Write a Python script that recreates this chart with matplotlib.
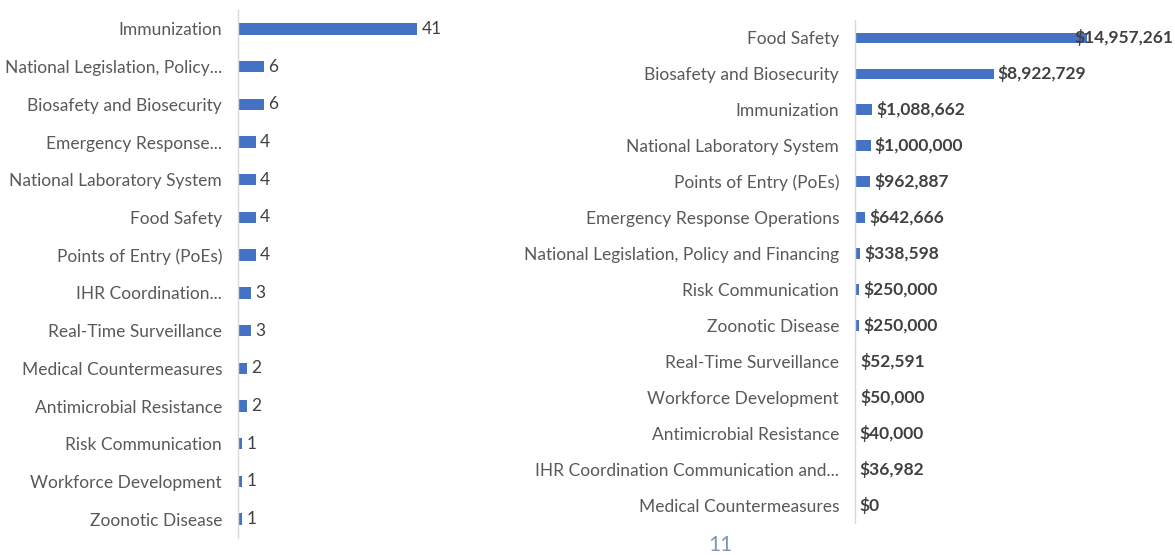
import numpy as np
import matplotlib.pyplot as plt

# left panel: number of activities per technical area
count_labels = ["Immunization", "National Legislation, Policy...", "Biosafety and Biosecurity",
                "Emergency Response...", "National Laboratory System", "Food Safety",
                "Points of Entry (PoEs)", "IHR Coordination...", "Real-Time Surveillance",
                "Medical Countermeasures", "Antimicrobial Resistance", "Risk Communication",
                "Workforce Development", "Zoonotic Disease"]
count_values = [41, 6, 6, 4, 4, 4, 4, 3, 3, 2, 2, 1, 1, 1]

# right panel: funding per technical area
fund_labels = ["Food Safety", "Biosafety and Biosecurity", "Immunization",
               "National Laboratory System", "Points of Entry (PoEs)",
               "Emergency Response Operations", "National Legislation, Policy and Financing",
               "Risk Communication", "Zoonotic Disease", "Real-Time Surveillance",
               "Workforce Development", "Antimicrobial Resistance",
               "IHR Coordination Communication and...", "Medical Countermeasures"]
fund_values = [14957261, 8922729, 1088662, 1000000, 962887, 642666, 338598,
               250000, 250000, 52591, 50000, 40000, 36982, 0]

plt.rcParams['font.family'] = ['Lato', 'DejaVu Sans']

W, H = 1175, 555
bar_col = "#4472C4"
txt_col = "#595959"
val_col = "#404040"
axis_col = "#D9D9D9"

fig = plt.figure(figsize=(W / 100, H / 100), dpi=100)


def px_axes(left, right, top, bottom):
    return fig.add_axes([left / W, 1 - bottom / H, (right - left) / W, (bottom - top) / H])


def style(ax):
    for s in ["top", "right", "bottom"]:
        ax.spines[s].set_visible(False)
    ax.spines["left"].set_color(axis_col)
    ax.spines["left"].set_linewidth(1.0)
    ax.set_xticks([])
    ax.tick_params(axis="y", length=0, pad=11.5, labelsize=12.5, labelcolor=txt_col)


# left chart
ax1 = px_axes(238, 448, 10, 538)
y1 = np.arange(len(count_labels))
ax1.barh(y1, count_values, height=0.3, color=bar_col)
ax1.set_xlim(0, 48)
ax1.set_ylim(len(count_labels) - 0.5, -0.5)
ax1.set_yticks(y1, count_labels)
style(ax1)
for y, v in zip(y1, count_values):
    ax1.annotate(str(v), (v, y), xytext=(3, 0), textcoords="offset points",
                 ha="left", va="center", fontsize=12.5, color=val_col)

# right chart
ax2 = px_axes(855, 1175, 20, 523)
y2 = np.arange(len(fund_labels))
ax2.barh(y2, fund_values, height=0.3, color=bar_col)
xmax = 20.6e6
ax2.set_xlim(0, xmax)
ax2.set_ylim(len(fund_labels) - 0.5, -0.5)
ax2.set_yticks(y2, fund_labels)
style(ax2)
for y, v in zip(y2, fund_values):
    lab = "${:,}".format(v)
    if v == max(fund_values):
        # label doesn't fit outside the bar, pushed to the right edge
        ax2.annotate(lab, (xmax, y), xytext=(-1, 0), textcoords="offset points",
                     ha="right", va="center", fontsize=12.5, color=val_col,
                     fontweight="bold", annotation_clip=False)
    else:
        ax2.annotate(lab, (v, y), xytext=(3, 0), textcoords="offset points",
                     ha="left", va="center", fontsize=12.5, color=val_col,
                     fontweight="bold")

# page number
fig.text(720 / W, 1 - 545 / H, "11", ha="center", va="center", fontsize=15, color="#8497B0")

fig.savefig("out.png", dpi=100)
